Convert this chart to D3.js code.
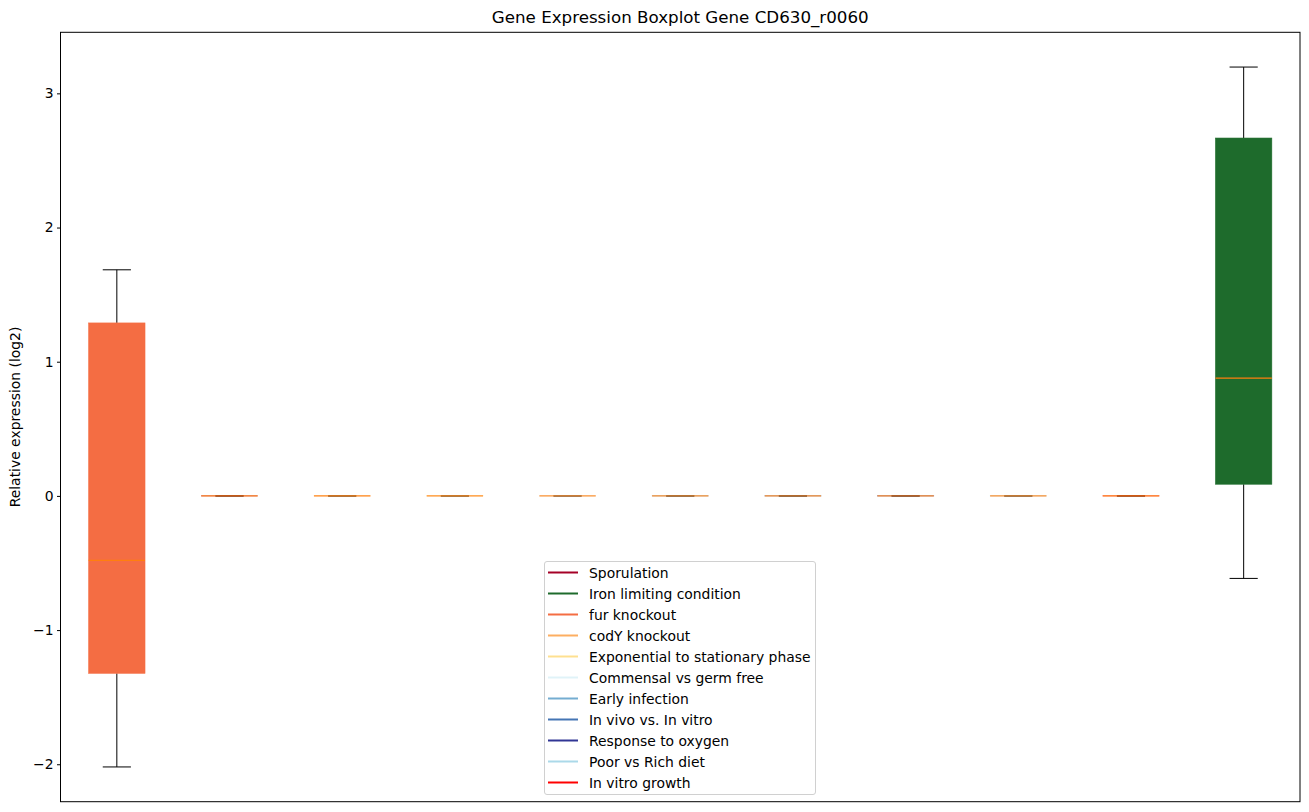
<!DOCTYPE html>
<html><head><meta charset="utf-8">
<script src="https://cdn.jsdelivr.net/npm/d3@7"></script>
<style>body{margin:0;background:#fff}text{font-family:"DejaVu Sans",sans-serif}</style>
</head><body><svg id="c" width="1309" height="812"></svg>
<script>
const legendNames = ["Sporulation","Iron limiting condition","fur knockout","codY knockout","Exponential to stationary phase","Commensal vs germ free","Early infection","In vivo vs. In vitro","Response to oxygen","Poor vs Rich diet","In vitro growth"];
const legendColors = ["#a50026","#1e6b2c","#f46d43","#fdae61","#fee090","#e0f3f8","#74add1","#4575b4","#313695","#abd9e9","#ff0000"];
// boxes in plotted order: group index into legend, whisker low, q1, median, q3, whisker high
const boxGroup = [2,0,3,4,5,6,7,8,9,10,1];
const whiskLow = [-2.02,0,0,0,0,0,0,0,0,0,-0.615];
const q1 =       [-1.322,0,0,0,0,0,0,0,0,0,0.087];
const medians =  [-0.48,0,0,0,0,0,0,0,0,0,0.877];
const q3 =       [1.289,0,0,0,0,0,0,0,0,0,2.667];
const whiskHigh =[1.685,0,0,0,0,0,0,0,0,0,3.196];
const yTicks = [-2,-1,0,1,2,3];

const svg = d3.select("#c");
const L=60.5, R=1300, T=32.3, B=801.7;
const x = d3.scaleLinear().domain([0.5,11.5]).range([L,R]);
const y = d3.scaleLinear().domain([-2.279,3.455]).range([B,T]);
const bw = 0.5, cw = 0.25;
const data = q1.map((d,i)=>({i, pos:i+1, lo:whiskLow[i], q1:d, med:medians[i], q3:q3[i], hi:whiskHigh[i], color:legendColors[boxGroup[i]]}));

const g = svg.append("g");
data.forEach(d=>{
  g.append("line").attr("x1",x(d.pos)).attr("x2",x(d.pos)).attr("y1",y(d.lo)).attr("y2",y(d.q1)).attr("stroke","#000").attr("stroke-width",1);
  g.append("line").attr("x1",x(d.pos)).attr("x2",x(d.pos)).attr("y1",y(d.q3)).attr("y2",y(d.hi)).attr("stroke","#000").attr("stroke-width",1);
  [d.lo,d.hi].forEach(v=>g.append("line").attr("x1",x(d.pos-cw/2)).attr("x2",x(d.pos+cw/2)).attr("y1",y(v)).attr("y2",y(v)).attr("stroke","#000").attr("stroke-width",1));
  g.append("rect").attr("x",x(d.pos-bw/2)).attr("width",x(d.pos+bw/2)-x(d.pos-bw/2))
    .attr("y",y(d.q3)).attr("height",Math.max(0.01,y(d.q1)-y(d.q3)))
    .attr("fill",d.color).attr("stroke",d.color).attr("stroke-width",0.6);
  g.append("line").attr("x1",x(d.pos-bw/2)).attr("x2",x(d.pos+bw/2)).attr("y1",y(d.med)).attr("y2",y(d.med))
    .attr("stroke","#ff7f0e").attr("stroke-width",1.2).attr("stroke-opacity",d.q3===d.q1?0.85:1);
});

svg.append("rect").attr("x",L).attr("y",T).attr("width",R-L).attr("height",B-T).attr("fill","none").attr("stroke","#000").attr("stroke-width",1);
const ya = svg.append("g").attr("transform",`translate(${L},0)`).call(d3.axisLeft(y).tickValues(yTicks).tickSize(3.5).tickPadding(3.5).tickFormat(d=>d<0?"\u2212"+Math.abs(d):d));
ya.select(".domain").remove();
ya.selectAll("text").attr("font-size",13.9).attr("fill","#000").style("font-family","DejaVu Sans");
ya.selectAll("line").attr("stroke","#000");

svg.append("text").attr("x",(L+R)/2).attr("y",23).attr("text-anchor","middle").attr("font-size",16.7).text("Gene Expression Boxplot Gene CD630_r0060");
svg.append("text").attr("transform",`translate(20,${(T+B)/2}) rotate(-90)`).attr("text-anchor","middle").attr("font-size",13.9).text("Relative expression (log2)");

const lg = svg.append("g");
lg.append("rect").attr("x",544.5).attr("y",561.5).attr("width",271).attr("height",233).attr("rx",2.5).attr("fill","#fff").attr("fill-opacity",0.8).attr("stroke","#d0d0d0");
legendNames.forEach((n,i)=>{
  const yy = 572.5 + i*21;
  lg.append("line").attr("x1",548).attr("x2",578).attr("y1",yy).attr("y2",yy).attr("stroke",legendColors[i]).attr("stroke-width",2);
  lg.append("text").attr("x",589).attr("y",yy+5).attr("font-size",13.9).text(n);
});
</script></body></html>
